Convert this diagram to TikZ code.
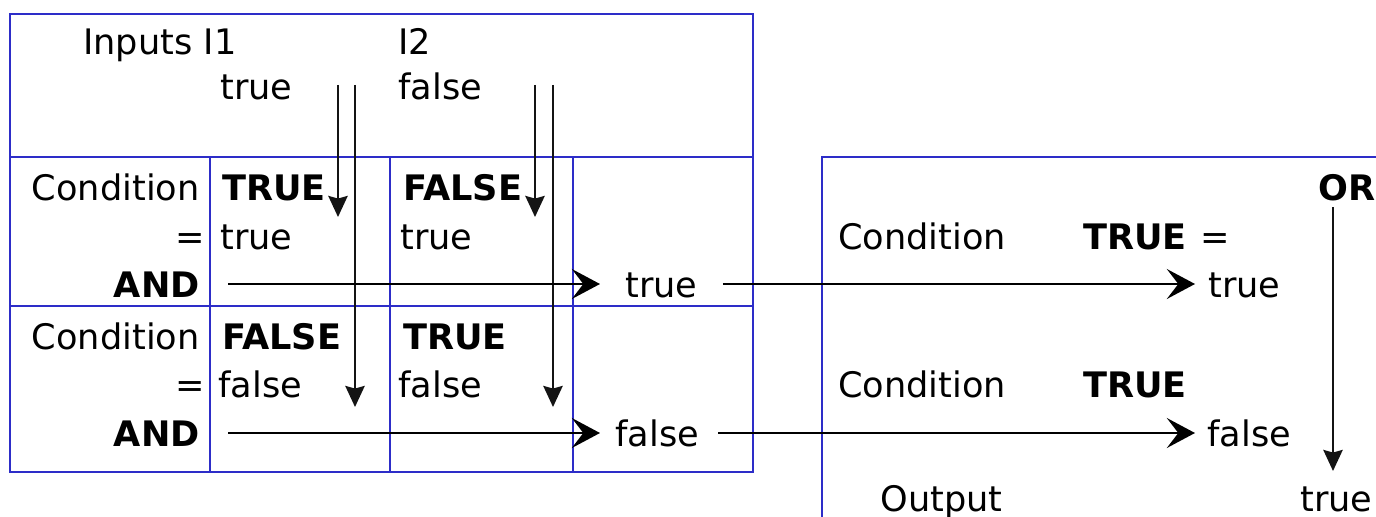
\documentclass[tikz,border=0pt]{standalone}
\usepackage{fontspec}
\setmainfont{DejaVu Sans}
\usetikzlibrary{arrows.meta}
\definecolor{gridblue}{RGB}{45,45,200}
\definecolor{arrowgray}{RGB}{20,20,20}
\begin{document}
\begin{tikzpicture}[x=0.02cm,y=-0.02cm,
  txt/.style={inner sep=0pt,anchor=base west,font=\fontsize{20}{24}\selectfont},
  txtr/.style={inner sep=0pt,anchor=base east,font=\fontsize{20}{24}\selectfont},
  btxt/.style={txt,font=\fontsize{20}{24}\selectfont\bfseries},
  btxtr/.style={txtr,font=\fontsize{20}{24}\selectfont\bfseries},
  gridline/.style={draw=gridblue,line width=1.3pt},
  harrow/.style={draw=black,line width=1.7pt,-{Stealth[length=16pt,width=17pt,inset=6.5pt]}},
  varrow/.style={draw=arrowgray,line width=1.3pt,-{Stealth[length=12pt,width=11pt,inset=1.5pt]}}]
\useasboundingbox (0,0) rectangle (1376,517);
% left grid
\draw[gridline] (10,14) rectangle (753,472);
\draw[gridline] (10,157) -- (753,157);
\draw[gridline] (10,306) -- (753,306);
\draw[gridline] (210,157) -- (210,472);
\draw[gridline] (390,157) -- (390,472);
\draw[gridline] (573,157) -- (573,472);
% right box
\draw[gridline] (822,517) -- (822,157) -- (1376,157);
% top texts
\node[txt] (inputs) at (83,55) {Inputs I1};
\node[txt] (i2) at (398,55) {I2};
\node[txt] (v1) at (220,100) {true};
\node[txt] (v2) at (398,100) {false};
% row 1
\node[txtr] (c1) at (200,200) {Condition};
\node[btxt] (t11) at (222,200) {TRUE};
\node[btxt] (t12) at (403,200) {FALSE};
\node[txtr] (eq1) at (205,249) {=};
\node[txt] (r11) at (220,249) {true};
\node[txt] (r12) at (400,249) {true};
\node[btxtr] (and1) at (200,297) {AND};
\node[txt] (res1) at (625,297) {true};
% row 2
\node[txtr] (c2) at (200,349) {Condition};
\node[btxt] (t21) at (222,349) {FALSE};
\node[btxt] (t22) at (403,349) {TRUE};
\node[txtr] (eq2) at (205,397) {=};
\node[txt] (r21) at (218,397) {false};
\node[txt] (r22) at (398,397) {false};
\node[btxtr] (and2) at (200,446) {AND};
\node[txt] (res2) at (615,446) {false};
% right box texts
\node[btxt] (or) at (1318,200) {OR};
\node[txt] (rc1) at (838,249) {Condition};
\node[btxt] (rt1) at (1083,249) {TRUE};
\node[txt] (req) at (1200,249) {=};
\node[txt] (ro1) at (1208,297) {true};
\node[txt] (rc2) at (838,397) {Condition};
\node[btxt] (rt2) at (1083,397) {TRUE};
\node[txt] (ro2) at (1207,446) {false};
\node[txt] (outl) at (880,511) {Output};
\node[txt] (outv) at (1300,511) {true};
% arrow coordinates
\coordinate (a1s) at (338,85); \coordinate (a1e) at (338,217);
\coordinate (b1s) at (355,85); \coordinate (b1e) at (355,407);
\coordinate (a2s) at (535,85); \coordinate (a2e) at (535,217);
\coordinate (b2s) at (553,85); \coordinate (b2e) at (553,407);
\coordinate (ors) at (1333,207); \coordinate (ore) at (1333,471);
% vertical arrows
\draw[varrow] (a1s) -- (a1e);
\draw[varrow] (b1s) -- (b1e);
\draw[varrow] (a2s) -- (a2e);
\draw[varrow] (b2s) -- (b2e);
\draw[varrow] (ors) -- (ore);
% horizontal arrows
\draw[harrow] (and1.east |- 0,284) ++(28,0) -- (600,284);
\draw[harrow] (res1.east |- 0,284) ++(25,0) -- (1195,284);
\draw[harrow] (and2.east |- 0,433) ++(28,0) -- (600,433);
\draw[harrow] (res2.east |- 0,433) ++(19,0) -- (1195,433);
\end{tikzpicture}
\end{document}
